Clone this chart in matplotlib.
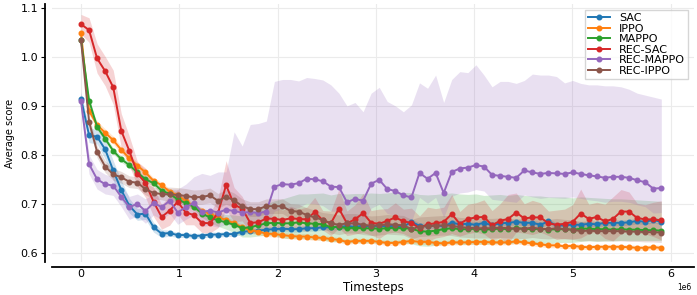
import numpy as np
import matplotlib.pyplot as plt

step = 82000
timesteps = np.arange(73) * step

labels = ["SAC", "IPPO", "MAPPO", "REC-SAC", "REC-MAPPO", "REC-IPPO"]
colors = ["#1f77b4", "#ff7f0e", "#2ca02c", "#d62728", "#9467bd", "#8c564b"]

sac = [0.915, 0.840, 0.837, 0.811, 0.768, 0.728, 0.696, 0.678, 0.680, 0.652, 0.639, 0.640, 0.636, 0.636, 0.634,
       0.635, 0.637, 0.637, 0.638, 0.638, 0.643, 0.644, 0.645, 0.647, 0.648, 0.649, 0.648, 0.648, 0.650, 0.650,
       0.652, 0.652, 0.653, 0.654, 0.653, 0.655, 0.654, 0.655, 0.654, 0.655, 0.653, 0.663, 0.655, 0.654, 0.656,
       0.654, 0.661, 0.658, 0.659, 0.657, 0.661, 0.656, 0.660, 0.661, 0.663, 0.661, 0.661, 0.657, 0.664, 0.655,
       0.656, 0.657, 0.657, 0.659, 0.658, 0.661, 0.661, 0.661, 0.662, 0.665, 0.663, 0.667, 0.663]
sac_sd = [0.012, 0.015, 0.015, 0.02, 0.02, 0.02, 0.015, 0.012, 0.012, 0.01, 0.008, 0.006, 0.005, 0.005, 0.005,
          0.005, 0.005, 0.005, 0.005, 0.005, 0.005, 0.005, 0.006, 0.006, 0.006, 0.006, 0.006, 0.006, 0.006, 0.006,
          0.006, 0.006, 0.006, 0.006, 0.006, 0.006, 0.006, 0.006, 0.006, 0.006, 0.006, 0.006, 0.006, 0.006, 0.006,
          0.006, 0.006, 0.006, 0.006, 0.006, 0.006, 0.006, 0.006, 0.006, 0.006, 0.006, 0.006, 0.006, 0.006, 0.006,
          0.006, 0.006, 0.006, 0.006, 0.006, 0.006, 0.006, 0.006, 0.006, 0.006, 0.006, 0.006, 0.006]

ippo = [1.050, 0.890, 0.861, 0.845, 0.830, 0.810, 0.793, 0.778, 0.764, 0.747, 0.738, 0.725, 0.717, 0.706, 0.695,
        0.686, 0.679, 0.672, 0.667, 0.660, 0.652, 0.646, 0.643, 0.639, 0.638, 0.636, 0.634, 0.633, 0.633, 0.631,
        0.630, 0.628, 0.626, 0.622, 0.624, 0.624, 0.624, 0.622, 0.620, 0.620, 0.622, 0.624, 0.622, 0.622, 0.620,
        0.619, 0.621, 0.621, 0.621, 0.622, 0.622, 0.621, 0.621, 0.621, 0.623, 0.621, 0.619, 0.617, 0.615, 0.615,
        0.613, 0.614, 0.612, 0.611, 0.612, 0.612, 0.612, 0.612, 0.611, 0.610, 0.610, 0.611, 0.610]
ippo_sd = [0.008, 0.008, 0.008, 0.008, 0.008, 0.007, 0.007, 0.007, 0.006, 0.006, 0.006, 0.006, 0.006, 0.006, 0.006,
           0.006, 0.006, 0.006, 0.006, 0.006, 0.006, 0.006, 0.006, 0.006, 0.006, 0.006, 0.006, 0.006, 0.006, 0.006,
           0.005, 0.005, 0.005, 0.005, 0.005, 0.005, 0.005, 0.005, 0.005, 0.005, 0.005, 0.005, 0.005, 0.005, 0.005,
           0.005, 0.005, 0.005, 0.005, 0.005, 0.005, 0.005, 0.005, 0.005, 0.005, 0.005, 0.005, 0.005, 0.005, 0.005,
           0.005, 0.005, 0.005, 0.005, 0.005, 0.005, 0.005, 0.005, 0.005, 0.005, 0.005, 0.005, 0.005]

mappo = [1.035, 0.911, 0.857, 0.833, 0.808, 0.791, 0.779, 0.764, 0.750, 0.742, 0.727, 0.720, 0.709, 0.701, 0.694,
         0.680, 0.672, 0.666, 0.662, 0.657, 0.650, 0.652, 0.656, 0.660, 0.661, 0.660, 0.660, 0.662, 0.660, 0.659,
         0.658, 0.652, 0.653, 0.650, 0.651, 0.650, 0.650, 0.649, 0.650, 0.651, 0.650, 0.649, 0.644, 0.643, 0.645,
         0.648, 0.650, 0.648, 0.648, 0.649, 0.647, 0.648, 0.649, 0.648, 0.650, 0.649, 0.648, 0.649, 0.647, 0.648,
         0.648, 0.647, 0.649, 0.649, 0.648, 0.648, 0.647, 0.648, 0.647, 0.647, 0.646, 0.646, 0.645]
mappo_up = [0.006, 0.006, 0.006, 0.006, 0.006, 0.006, 0.006, 0.006, 0.006, 0.006, 0.006, 0.006, 0.006, 0.006, 0.006,
            0.010, 0.012, 0.014, 0.016, 0.020, 0.025, 0.030, 0.035, 0.040, 0.045, 0.050, 0.055, 0.058, 0.060, 0.062,
            0.064, 0.066, 0.068, 0.070, 0.070, 0.071, 0.072, 0.072, 0.072, 0.073, 0.073, 0.074, 0.075, 0.075, 0.074,
            0.073, 0.072, 0.072, 0.071, 0.071, 0.070, 0.070, 0.070, 0.069, 0.069, 0.068, 0.068, 0.067, 0.067, 0.066,
            0.066, 0.065, 0.065, 0.064, 0.064, 0.063, 0.063, 0.062, 0.062, 0.061, 0.061, 0.060, 0.060]
mappo_dn = [0.006, 0.006, 0.006, 0.006, 0.006, 0.006, 0.006, 0.006, 0.006, 0.006, 0.006, 0.006, 0.006, 0.006, 0.006,
            0.008, 0.010, 0.012, 0.014, 0.016, 0.018, 0.020, 0.022, 0.024, 0.026, 0.030, 0.031, 0.032, 0.032, 0.032,
            0.032, 0.030, 0.030, 0.030, 0.030, 0.030, 0.030, 0.030, 0.031, 0.031, 0.031, 0.031, 0.030, 0.030, 0.030,
            0.031, 0.031, 0.031, 0.031, 0.031, 0.030, 0.030, 0.030, 0.030, 0.030, 0.030, 0.029, 0.029, 0.028, 0.028,
            0.027, 0.026, 0.026, 0.025, 0.025, 0.024, 0.023, 0.023, 0.022, 0.022, 0.021, 0.021, 0.020]

rec_sac = [1.067, 1.055, 0.997, 0.971, 0.938, 0.849, 0.808, 0.761, 0.743, 0.704, 0.673, 0.686, 0.704, 0.682, 0.677,
           0.661, 0.660, 0.681, 0.738, 0.698, 0.690, 0.661, 0.662, 0.670, 0.669, 0.667, 0.670, 0.669, 0.668, 0.683,
           0.666, 0.660, 0.690, 0.660, 0.668, 0.681, 0.661, 0.659, 0.665, 0.672, 0.664, 0.661, 0.650, 0.658, 0.660,
           0.663, 0.679, 0.659, 0.669, 0.672, 0.673, 0.656, 0.665, 0.669, 0.682, 0.670, 0.672, 0.672, 0.660, 0.657,
           0.659, 0.663, 0.680, 0.669, 0.673, 0.664, 0.669, 0.684, 0.684, 0.671, 0.668, 0.668, 0.666]
rec_sac_sd = [0.020, 0.025, 0.030, 0.030, 0.035, 0.035, 0.030, 0.025, 0.030, 0.030, 0.025, 0.030, 0.025, 0.025, 0.020,
              0.020, 0.020, 0.030, 0.050, 0.035, 0.025, 0.020, 0.020, 0.020, 0.025, 0.020, 0.025, 0.020, 0.025, 0.030,
              0.020, 0.025, 0.040, 0.025, 0.030, 0.040, 0.025, 0.030, 0.025, 0.030, 0.025, 0.030, 0.025, 0.035, 0.030,
              0.030, 0.040, 0.025, 0.030, 0.030, 0.035, 0.030, 0.035, 0.050, 0.040, 0.030, 0.035, 0.030, 0.025, 0.030,
              0.030, 0.035, 0.050, 0.030, 0.030, 0.035, 0.045, 0.045, 0.040, 0.030, 0.030, 0.035, 0.040]

rec_mappo = [0.910, 0.781, 0.750, 0.740, 0.737, 0.714, 0.693, 0.700, 0.685, 0.702, 0.693, 0.706, 0.682, 0.693, 0.702,
             0.683, 0.686, 0.682, 0.688, 0.685, 0.682, 0.683, 0.681, 0.684, 0.735, 0.740, 0.739, 0.742, 0.751, 0.750,
             0.746, 0.735, 0.734, 0.703, 0.710, 0.706, 0.741, 0.749, 0.730, 0.726, 0.717, 0.713, 0.763, 0.751, 0.763,
             0.722, 0.765, 0.772, 0.774, 0.779, 0.776, 0.759, 0.757, 0.755, 0.753, 0.768, 0.764, 0.761, 0.763, 0.762,
             0.761, 0.764, 0.761, 0.758, 0.756, 0.753, 0.755, 0.755, 0.753, 0.748, 0.744, 0.731, 0.732]
rec_mappo_hi = [0.930, 0.800, 0.770, 0.760, 0.755, 0.735, 0.715, 0.720, 0.710, 0.720, 0.715, 0.730, 0.730, 0.740, 0.755,
                0.762, 0.758, 0.765, 0.765, 0.847, 0.818, 0.862, 0.864, 0.869, 0.950, 0.954, 0.954, 0.951, 0.958, 0.956,
                0.953, 0.943, 0.926, 0.900, 0.907, 0.888, 0.926, 0.938, 0.909, 0.900, 0.888, 0.902, 0.947, 0.936, 0.963,
                0.907, 0.954, 0.970, 0.968, 0.984, 0.963, 0.939, 0.950, 0.950, 0.946, 0.952, 0.965, 0.963, 0.963, 0.960,
                0.947, 0.952, 0.946, 0.943, 0.943, 0.941, 0.941, 0.939, 0.934, 0.926, 0.922, 0.918, 0.914]
rec_mappo_lo = [0.890, 0.761, 0.730, 0.720, 0.717, 0.694, 0.668, 0.675, 0.660, 0.677, 0.668, 0.680, 0.658, 0.668, 0.677,
                0.653, 0.656, 0.652, 0.658, 0.655, 0.652, 0.653, 0.651, 0.654, 0.685, 0.690, 0.689, 0.692, 0.701, 0.700,
                0.696, 0.685, 0.684, 0.653, 0.660, 0.656, 0.691, 0.699, 0.680, 0.676, 0.667, 0.663, 0.713, 0.701, 0.713,
                0.672, 0.715, 0.722, 0.724, 0.729, 0.726, 0.709, 0.707, 0.705, 0.703, 0.718, 0.714, 0.711, 0.713, 0.712,
                0.711, 0.714, 0.711, 0.708, 0.706, 0.703, 0.705, 0.705, 0.703, 0.698, 0.694, 0.681, 0.682]

rec_ippo = [1.035, 0.868, 0.806, 0.776, 0.760, 0.754, 0.745, 0.743, 0.730, 0.722, 0.720, 0.719, 0.718, 0.716, 0.713,
            0.714, 0.717, 0.706, 0.714, 0.707, 0.695, 0.689, 0.689, 0.695, 0.695, 0.695, 0.685, 0.684, 0.677, 0.672,
            0.667, 0.660, 0.657, 0.660, 0.660, 0.657, 0.655, 0.656, 0.658, 0.657, 0.656, 0.648, 0.653, 0.654, 0.655,
            0.656, 0.655, 0.652, 0.651, 0.650, 0.650, 0.650, 0.651, 0.650, 0.649, 0.649, 0.651, 0.649, 0.648, 0.650,
            0.648, 0.647, 0.644, 0.645, 0.644, 0.644, 0.644, 0.644, 0.643, 0.643, 0.642, 0.642, 0.641]
rec_ippo_sd = [0.012, 0.012, 0.012, 0.012, 0.012, 0.012, 0.012, 0.012, 0.012, 0.012, 0.012, 0.015, 0.015, 0.015, 0.015,
               0.015, 0.015, 0.015, 0.015, 0.015, 0.015, 0.015, 0.015, 0.015, 0.015, 0.015, 0.015, 0.015, 0.015, 0.015,
               0.015, 0.020, 0.020, 0.020, 0.020, 0.020, 0.020, 0.020, 0.020, 0.020, 0.020, 0.020, 0.020, 0.020, 0.020,
               0.020, 0.020, 0.020, 0.020, 0.020, 0.020, 0.020, 0.020, 0.020, 0.020, 0.020, 0.020, 0.020, 0.020, 0.020,
               0.020, 0.020, 0.020, 0.020, 0.020, 0.020, 0.020, 0.020, 0.020, 0.020, 0.020, 0.020, 0.020]

means = [sac, ippo, mappo, rec_sac, rec_mappo, rec_ippo]
lows = [np.subtract(sac, sac_sd), np.subtract(ippo, ippo_sd), np.subtract(mappo, mappo_dn),
        np.subtract(rec_sac, rec_sac_sd), rec_mappo_lo, np.subtract(rec_ippo, rec_ippo_sd)]
highs = [np.add(sac, sac_sd), np.add(ippo, ippo_sd), np.add(mappo, mappo_up),
         np.add(rec_sac, rec_sac_sd), rec_mappo_hi, np.add(rec_ippo, rec_ippo_sd)]

fig = plt.figure(figsize=(6.97, 2.95), dpi=100)
ax = fig.add_axes([0.0746, 0.112, 0.921, 0.874])

for m, lo, hi, c, lab in zip(means, lows, highs, colors, labels):
    ax.fill_between(timesteps, lo, hi, color=c, alpha=0.2, lw=0)
    ax.plot(timesteps, m, color=c, lw=1.4, marker="o", ms=3.3, label=lab)

ax.set_xlim(-0.295e6, 6.236e6)
ax.set_ylim(0.581, 1.108)
ax.set_yticks([0.6, 0.7, 0.8, 0.9, 1.0, 1.1])
ax.grid(True, color="#ebebeb", lw=0.8)
ax.set_axisbelow(True)

for s in ["top", "right"]:
    ax.spines[s].set_visible(False)
ax.spines["left"].set_position(("outward", 5))
ax.spines["bottom"].set_position(("outward", 3.6))
ax.spines["left"].set_linewidth(1.3)
ax.spines["bottom"].set_linewidth(1.3)
ax.tick_params(axis="y", labelsize=8, length=3, width=0.8, pad=2)
ax.tick_params(axis="x", labelsize=8, length=0, pad=1.5)

# scientific offset drawn by hand so it sits inside the canvas
ax.xaxis.get_offset_text().set_visible(False)
ax.text(0.985, -0.098, "1e6", transform=ax.transAxes, fontsize=5.5, ha="center", va="center")

ax.set_xlabel("Timesteps", fontsize=8.5)
ax.xaxis.set_label_coords(0.5, -0.074)
ax.set_ylabel("Average score", fontsize=7, labelpad=4)

ax.legend(loc="upper right", fontsize=8, labelspacing=0.05, borderpad=0.3,
          handlelength=2.0, framealpha=0.8, edgecolor="#cccccc", fancybox=False)

fig.savefig("out.png", dpi=100)
